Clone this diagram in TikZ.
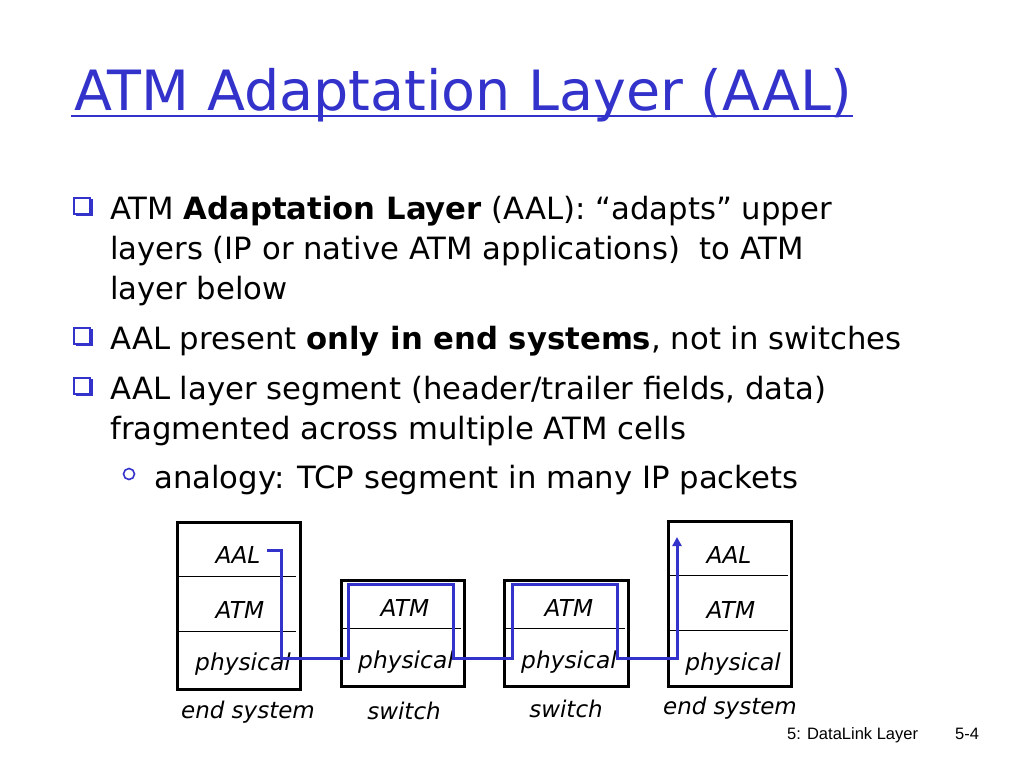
\documentclass[tikz,border=0pt]{standalone}
\usepackage{fontspec}
\setmainfont{DejaVu Sans}
\newfontfamily\footfont{Liberation Sans}
\usetikzlibrary{arrows.meta}
\definecolor{slideblue}{RGB}{51,51,204}
\tikzset{
  bodytext/.style={anchor=base west, inner sep=0pt, font=\fontsize{30.7}{32}\selectfont},
  layerbox/.style={draw=black, line width=3pt},
  divider/.style={draw=black, line width=0.7pt},
  layertext/.style={inner sep=0pt, font=\fontsize{23.3}{25}\selectfont\itshape},
  sublabel/.style={inner sep=0pt, font=\fontsize{23}{25}\selectfont\itshape},
  flow/.style={draw=slideblue, line width=3pt},
  sqbullet/.style={draw=slideblue, fill=white, line width=1.6pt, minimum size=16pt, inner sep=0pt},
  sqshadow/.style={fill=slideblue, minimum size=17pt, inner sep=0pt},
  footer/.style={anchor=base west, inner sep=0pt, font=\footfont\fontsize{16.5}{18}\selectfont},
}
\begin{document}
\begin{tikzpicture}[x=1pt,y=-1pt]
\useasboundingbox[fill=white] (0,0) rectangle (1024,768);
% title
\node[anchor=base west, inner sep=0pt, text=slideblue, font=\fontsize{55.5}{57}\selectfont] (title) at (74,110) {ATM Adaptation Layer (AAL)};
\draw[slideblue, line width=2.5pt] (title.base west)+(-3,6) coordinate (ul1) -- (title.base east |- ul1);
% bullets
\foreach \n/\yy in {b1/206, b2/336, b3/386}{
  \node[sqshadow] (\n s) at (84.5,\yy+1.5) {};
  \node[sqbullet] (\n) at (82,\yy) {};
}
\node[draw=slideblue, circle, line width=1.6pt, minimum size=11pt, inner sep=0pt] (b4) at (129,474) {};
\node[bodytext] (l1) at (110,219) {ATM \textbf{Adaptation Layer} (AAL): “adapts” upper};
\node[bodytext] (l2) at (110,259) {layers (IP or native ATM applications)\ \ to ATM};
\node[bodytext] (l3) at (110,299) {layer below};
\node[bodytext] (l4) at (110,349) {AAL present \textbf{only in end systems}, not in switches};
\node[bodytext] (l5) at (110,399) {AAL layer segment (header/trailer fields, data)};
\node[bodytext] (l6) at (110,439) {fragmented across multiple ATM cells};
\node[bodytext] (l7) at (154,488) {analogy: TCP segment in many IP packets};
% boxes
\node[layerbox, minimum width=123pt, minimum height=167pt, anchor=north west] (e1) at (176,521) {};
\draw[divider] (178,576) -- (296,576);
\draw[divider] (178,631) -- (296,631);
\node[layertext] (e1aal) at (238,555) {AAL};
\node[layertext] (e1atm) at (240,610) {ATM};
\node[layertext] (e1phy) at (243,664) {physical};
\node[sublabel] (e1lab) at (248,712) {end system};

\node[layerbox, minimum width=123pt, minimum height=106pt, anchor=north west] (s1) at (340,579) {};
\draw[divider] (342,628) -- (461,628);
\node[layertext] (s1atm) at (405,608) {ATM};
\node[layertext] (s1phy) at (406,662) {physical};
\node[sublabel] (s1lab) at (404,711) {switch};

\node[layerbox, minimum width=124pt, minimum height=106pt, anchor=north west] (s2) at (503,579) {};
\draw[divider] (505,628) -- (625,628);
\node[layertext] (s2atm) at (569,608) {ATM};
\node[layertext] (s2phy) at (569,662) {physical};
\node[sublabel] (s2lab) at (566,709) {switch};

\node[layerbox, minimum width=123pt, minimum height=165pt, anchor=north west] (e2) at (667,520) {};
\draw[divider] (669,575) -- (788,575);
\draw[divider] (669,630) -- (788,630);
\node[layertext] (e2aal) at (729,555) {AAL};
\node[layertext] (e2atm) at (731,610) {ATM};
\node[layertext] (e2phy) at (733,664) {physical};
\node[sublabel] (e2lab) at (730,708) {end system};
% flow
\coordinate (start) at (267,550);
\coordinate (tip) at (677,537);
\draw[flow, -{Triangle[length=9pt,width=9pt]}] (start) -- (281,550) -- (281,658) -- (348,658) -- (348,584) -- (453,584) -- (453,658) -- (512,658) -- (512,584) -- (617,584) -- (617,658) -- (677,658) -- (tip);
% footer
\node[footer] (foot1) at (787,739) {5: DataLink Layer};
\node[footer] (foot2) at (955,739) {5-4};
\end{tikzpicture}
\end{document}
